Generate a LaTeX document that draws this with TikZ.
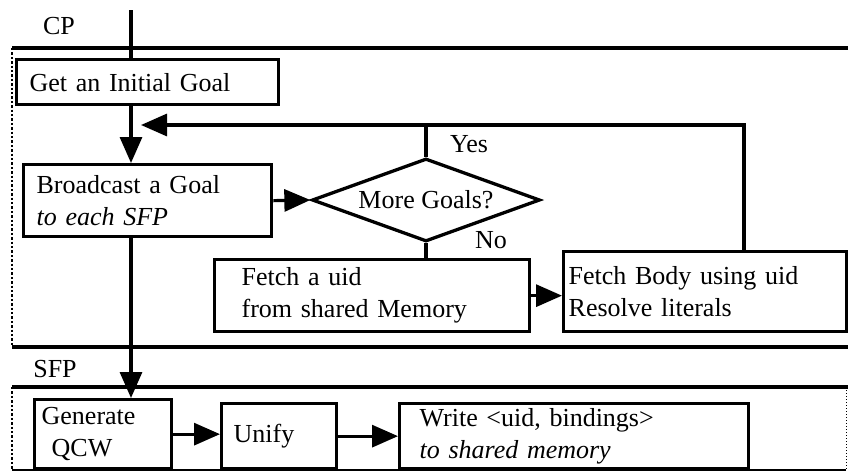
\documentclass[tikz,border=0pt]{standalone}
\usepackage{fontspec}
\setmainfont{Liberation Serif}
\usetikzlibrary{arrows.meta,shapes.geometric,calc}
\tikzset{
  txt/.style={font=\fontsize{26}{32}\selectfont},
  box/.style={draw, line width=3.3pt, anchor=north west, align=left, inner ysep=0pt, txt},
  frameline/.style={line width=3.3pt},
  frameside/.style={line width=2.4pt, dotted},
  conn/.style={line width=3.2pt},
  arr/.style={conn, -{Triangle[length=26pt,width=22pt]}},
}
\begin{document}
\begin{tikzpicture}[x=1pt,y=-1pt]
\useasboundingbox (0,0) rectangle (848,475);
% frames
\draw[frameline] (12,48) -- (848,48);
\draw[frameside] (12,48) -- (12,347);
\draw[frameline] (12,347) -- (848,347);
\draw[frameline] (12,387) -- (848,387);
\draw[frameside] (12,387) -- (12,470);
\draw[line width=2pt] (12,470) -- (846,470);
\draw[line width=1pt, dotted] (846,387) -- (846,470);
\node[txt] (cp) at (59,26) {CP};
\node[txt] (sfp) at (55,369) {SFP};
% boxes
\node[box, inner xsep=13pt, text width=236pt, minimum height=45pt] (get) at (15,58) {Get an Initial Goal};
\node[box, inner xsep=13pt, text width=222pt, minimum height=72pt] (bc) at (22,163) {Broadcast a Goal\\\textit{to each SFP}};
\node[draw, line width=3.3pt, shape=diamond, aspect=2.75, inner sep=0pt, minimum width=228pt, minimum height=83pt, txt] (dia) at (426,200) {More Goals?};
\node[box, inner xsep=27pt, text width=261pt, minimum height=72pt] (fu) at (213,258) {Fetch a uid\\from shared Memory};
\node[box, inner xsep=5pt, text width=273pt, minimum height=80pt] (fb) at (562,250) {Fetch Body using uid\\Resolve literals};
\node[box, inner xsep=7pt, text width=123pt, minimum height=69pt] (gen) at (33,398) {Generate\\\hspace*{10pt}QCW};
\node[box, inner xsep=12pt, text width=91pt, minimum height=65pt] (uni) at (220,402) {Unify};
\node[box, inner xsep=20pt, text width=309pt, minimum height=65pt] (wr) at (398,402) {Write <uid, bindings>\\\textit{to shared memory}};
% labels
\node[txt] (yes) at (469,144) {Yes};
\node[txt] (no) at (491,240) {No};
% coordinates
\coordinate (in) at (131,10);
\coordinate (ret) at (141,125);
\coordinate (fbtop) at (744,250);
% connectors
\draw[conn] (in) -- (get.north -| in);
\draw[arr] (get.south -| in) -- (bc.north -| in);
\draw[arr] (fbtop) |- (ret);
\draw[conn] (dia.north) -- (dia.north |- ret);
\draw[arr] (bc.east) -- (dia.west);
\draw[conn] (dia.south) -- (dia.south |- fu.north);
\draw[arr] (fu.east) -- (fu.east -| fb.west);
\draw[arr] (bc.south -| in) -- (gen.north -| in);
\draw[arr] (gen.east) -- (gen.east -| uni.west);
\draw[arr] (uni.east) -- (uni.east -| wr.west);
\end{tikzpicture}
\end{document}
